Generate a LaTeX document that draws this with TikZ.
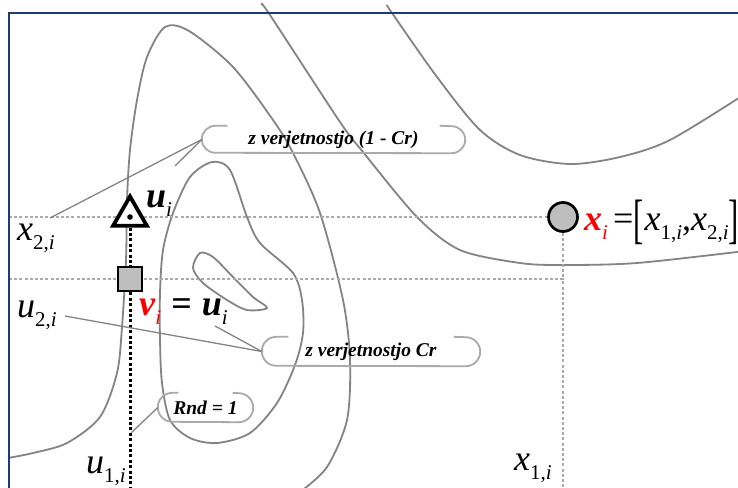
\documentclass[tikz,border=0pt]{standalone}
\usepackage{fontspec}
\setmainfont{Liberation Serif}
\usetikzlibrary{shapes.geometric}
\definecolor{siva}{RGB}{132,132,132}
\definecolor{svetlosiva}{RGB}{170,170,170}
\definecolor{polnilo}{RGB}{190,190,190}
\definecolor{rdeca}{RGB}{255,0,0}
\definecolor{okvirmoder}{RGB}{31,56,130}
\newcommand{\spi}[2]{\textit{#1}\raisebox{-9pt}{\fontsize{21}{21}\selectfont #2}}
\newcommand{\obroba}[3]{%
  \draw[obroba] ([xshift=#2+#3]#1.north west) -- ([xshift=#2]#1.north west)
    arc[start angle=90, end angle=270, radius=#2] -- ([xshift=-#2]#1.south east)
    arc[start angle=-90, end angle=90, radius=#2] -- ([xshift=-#2-#3]#1.north east);}
\begin{document}
\begin{tikzpicture}[x=1pt, y=-1pt,
  krivulja/.style={draw=siva, line width=1.8pt},
  vodilo/.style={draw=svetlosiva, line width=1.6pt, dash pattern=on 3pt off 2.2pt},
  kazalec/.style={draw=siva, line width=1.3pt},
  obroba/.style={draw=svetlosiva, line width=1.8pt},
  oblacek/.style={inner sep=0pt, font=\fontsize{19.5}{21}\selectfont\bfseries\itshape},
  oznaka/.style={inner sep=0pt, anchor=base west, font=\fontsize{36}{40}\selectfont}
]
\useasboundingbox (0,0) rectangle (738,487);
\clip (0,0) rectangle (738,487);
\fill[white] (0,0) rectangle (738,487);

\draw[krivulja] plot[smooth] coordinates {(8,458) (33,453) (67,443) (100,417) (117,373)
  (122,327) (126,260) (127,200) (130,150) (137,100) (147,57) (165,27) (189,31) (233,67)
  (273,120) (293,153) (320,213) (343,300) (350,360) (347,420) (327,467) (300,492)};
\draw[krivulja] plot[smooth] coordinates {(262,5) (270,15) (340,122) (363,152) (417,217)
  (460,250) (520,263) (563,265) (637,263) (745,251)};
\draw[krivulja] plot[smooth] coordinates {(387,5) (392,13) (437,77) (480,130) (520,155)
  (570,164) (620,157) (670,140) (745,94)};
\draw[krivulja] plot[smooth cycle] coordinates {(212,162) (230,170) (247,217) (260,243)
  (293,273) (302,300) (303,333) (295,365) (277,403) (250,433) (217,443) (190,438)
  (170,420) (162,383) (160,340) (160,293) (163,250) (173,213) (190,177)};
\draw[krivulja] plot[smooth cycle, tension=0.5] coordinates {(200,253) (213,257) (233,277)
  (253,297) (267,308) (247,310) (227,300) (203,283) (193,268)};

\coordinate (levo2) at (9,217);
\coordinate (levo1) at (9,279);
\coordinate (dno) at (130,490);
\node[circle, draw, line width=2.7pt, fill=polnilo, minimum size=29pt, inner sep=0pt] (tocka) at (563,217) {};
\draw[vodilo] (levo2) -- (tocka.west);
\draw[vodilo] (levo1) -- (tocka |- levo1) -- (tocka |- dno);
\draw[vodilo] (tocka.south) -- (tocka |- levo1);

\node[regular polygon, regular polygon sides=3, draw, line width=3.8pt, fill=white,
  minimum size=39pt, inner sep=0pt] (mut) at (130,216) {};
\fill (130,217) circle[radius=2.8pt];
\draw[line width=3pt, dash pattern=on 3pt off 2.4pt] (mut.south) -- (dno);
\node[rectangle, draw, line width=2.2pt, fill=polnilo, minimum size=24pt, inner sep=0pt] (poskus) at (130,279) {};

\node[oblacek, minimum width=263pt, minimum height=27pt] (verj1) at (333.5,139.5) {z verjetnostjo (1 - Cr)};
\node[oblacek, minimum width=218pt, minimum height=29pt] (verj2) at (371,351.5) {z verjetnostjo Cr};
\node[oblacek, minimum width=95pt, minimum height=29pt] (rnd) at (205.5,407.5) {Rnd = 1};
\obroba{verj1}{13.5pt}{12pt}
\obroba{verj2}{14.5pt}{12pt}
\obroba{rnd}{14.5pt}{6pt}

\coordinate (k1) at (50,218);
\coordinate (k2) at (175,166);
\coordinate (k3) at (65,316);
\coordinate (k4) at (215,326);
\coordinate (k5) at (131,433);
\draw[kazalec] (k1) -- (verj1.west);
\draw[kazalec] (k2) -- (verj1.west);
\draw[kazalec] (k3) -- (verj2.west);
\draw[kazalec] (k4) -- (verj2.west);
\draw[kazalec] (k5) -- (rnd.west);

\node[oznaka] (x2) at (17,240) {\spi{x}{2,\textit{i}}};
\node[oznaka] (u2) at (17,317) {\spi{u}{2,\textit{i}}};
\node[oznaka] (u1) at (86,473) {\spi{u}{1,\textit{i}}};
\node[oznaka] (x1) at (514,470) {\spi{x}{1,\textit{i}}};
\node[oznaka] (ui) at (146,207) {\textbf{\textit{u}}\raisebox{-9pt}{\fontsize{21}{21}\selectfont\textit{i}}};
\node[oznaka] (vi) at (139,315) {\textcolor{rdeca}{\textbf{\textit{v}}\raisebox{-9pt}{\fontsize{21}{21}\selectfont\textit{i}}}\hspace{10pt}\textbf{=}\hspace{10pt}\textbf{\textit{u}}\raisebox{-9pt}{\fontsize{21}{21}\selectfont\textit{i}}};
\node[oznaka] (xi) at (584,230) {\textcolor{rdeca}{\textbf{\textit{x}}\raisebox{-9pt}{\fontsize{21}{21}\selectfont\textit{i}}}\hspace{5pt}=\raisebox{-7pt}{\scalebox{0.85}[1.5]{[}}\hspace{1pt}\spi{x}{1,\textit{i}},\spi{x}{2,\textit{i}}\raisebox{-7pt}{\scalebox{0.85}[1.5]{]}}};

\draw[okvirmoder, line width=2pt] (9,495) -- (9,13) -- (745,13);
\end{tikzpicture}
\end{document}
